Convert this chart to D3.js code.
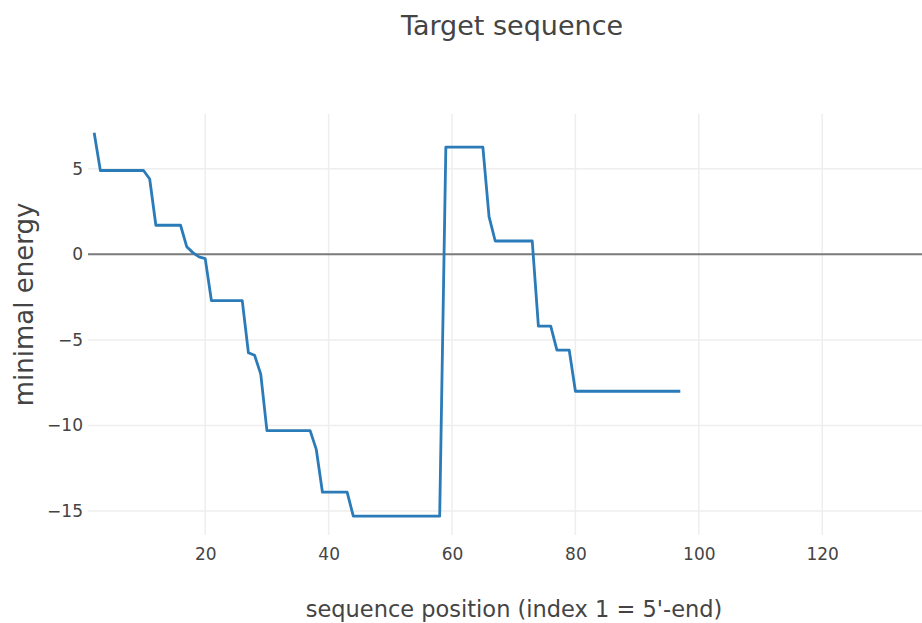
<!DOCTYPE html>
<html>
<head>
<meta charset="utf-8">
<script src="https://cdn.jsdelivr.net/npm/d3@7/dist/d3.min.js"></script>
<style>
  html, body { margin: 0; padding: 0; background: #fff; }
  svg { display: block; }
  text { font-family: "DejaVu Sans", Verdana, sans-serif; fill: #444; }
</style>
</head>
<body>
<svg id="chart" width="922" height="623"></svg>
<script>
// Minimal folding energy along the target sequence (positions 2..97)
const positions = d3.range(2, 98);
const energies = [
  7.1, 4.9, 4.9, 4.9, 4.9, 4.9, 4.9, 4.9, 4.9, 4.4,      // 2-11
  1.7, 1.7, 1.7, 1.7, 1.7, 0.45, 0.1, -0.15, -0.25, -2.7, // 12-21
  -2.7, -2.7, -2.7, -2.7, -2.7, -5.75, -5.9, -7.0, -10.3, -10.3, // 22-31
  -10.3, -10.3, -10.3, -10.3, -10.3, -10.3, -11.4, -13.9, -13.9, -13.9, // 32-41
  -13.9, -13.9, -15.3, -15.3, -15.3, -15.3, -15.3, -15.3, -15.3, -15.3, // 42-51
  -15.3, -15.3, -15.3, -15.3, -15.3, -15.3, -15.3, 6.27, 6.27, 6.27, // 52-61
  6.27, 6.27, 6.27, 6.27, 2.2, 0.78, 0.78, 0.78, 0.78, 0.78, // 62-71
  0.78, 0.78, -4.2, -4.2, -4.2, -5.6, -5.6, -5.6, -8.0, -8.0, // 72-81
  -8.0, -8.0, -8.0, -8.0, -8.0, -8.0, -8.0, -8.0, -8.0, -8.0, // 82-91
  -8.0, -8.0, -8.0, -8.0, -8.0, -8.0                          // 92-97
];
const xTicks = [20, 40, 60, 80, 100, 120];
const yTicks = [-15, -10, -5, 0, 5];

const titleText = "Target sequence";
const xTitle = "sequence position (index 1 = 5'-end)";
const yTitle = "minimal energy";

const svg = d3.select("#chart");
const plot = { left: 88, right: 945.6, top: 114, bottom: 535 };

const x = d3.scaleLinear().domain([1, 140]).range([plot.left, plot.right]);
const y = d3.scaleLinear().domain([-16.4, 8.2]).range([plot.bottom, plot.top]);

svg.append("rect").attr("width", 922).attr("height", 623).attr("fill", "#fff");

// grid lines
const grid = svg.append("g");
grid.selectAll("line.vx").data(xTicks).join("line")
  .attr("x1", d => x(d)).attr("x2", d => x(d))
  .attr("y1", plot.top).attr("y2", plot.bottom)
  .attr("stroke", "#eee").attr("stroke-width", 1.5);
grid.selectAll("line.hy").data(yTicks.filter(d => d !== 0)).join("line")
  .attr("x1", plot.left).attr("x2", plot.right)
  .attr("y1", d => y(d)).attr("y2", d => y(d))
  .attr("stroke", "#eee").attr("stroke-width", 1.5);

// zero line
svg.append("line")
  .attr("x1", plot.left).attr("x2", plot.right)
  .attr("y1", y(0)).attr("y2", y(0))
  .attr("stroke", "#7a7a7a").attr("stroke-width", 2);

// axes (labels only)
const xAxis = svg.append("g")
  .attr("transform", `translate(0,${plot.bottom + 10})`)
  .call(d3.axisBottom(x).tickValues(xTicks).tickSize(0).tickPadding(0));
xAxis.select(".domain").remove();
xAxis.selectAll("text").attr("font-size", 17).attr("dy", "0.9em")
  .style("font-family", '"DejaVu Sans", Verdana, sans-serif').style("fill", "#444");

const yAxis = svg.append("g")
  .attr("transform", `translate(${plot.left - 5},0)`)
  .call(d3.axisLeft(y).tickValues(yTicks).tickSize(0).tickPadding(0)
    .tickFormat(d => d < 0 ? "\u2212" + Math.abs(d) : String(d)));
yAxis.select(".domain").remove();
yAxis.selectAll("text").attr("font-size", 17)
  .style("font-family", '"DejaVu Sans", Verdana, sans-serif').style("fill", "#444");

// energy line
const line = d3.line()
  .x((d, i) => x(positions[i]))
  .y(d => y(d));
svg.append("path")
  .datum(energies)
  .attr("d", line)
  .attr("fill", "none")
  .attr("stroke", "#2b7bb9")
  .attr("stroke-width", 2.8)
  .attr("stroke-linejoin", "round");

// titles
svg.append("text")
  .attr("x", 512).attr("y", 35)
  .attr("text-anchor", "middle")
  .attr("font-size", 27)
  .text(titleText);

svg.append("text")
  .attr("x", 514).attr("y", 617)
  .attr("text-anchor", "middle")
  .attr("font-size", 22.5)
  .text(xTitle);

svg.append("text")
  .attr("transform", `translate(33,${(plot.top + plot.bottom) / 2 - 20}) rotate(-90)`)
  .attr("text-anchor", "middle")
  .attr("font-size", 26)
  .text(yTitle);
</script>
</body>
</html>
